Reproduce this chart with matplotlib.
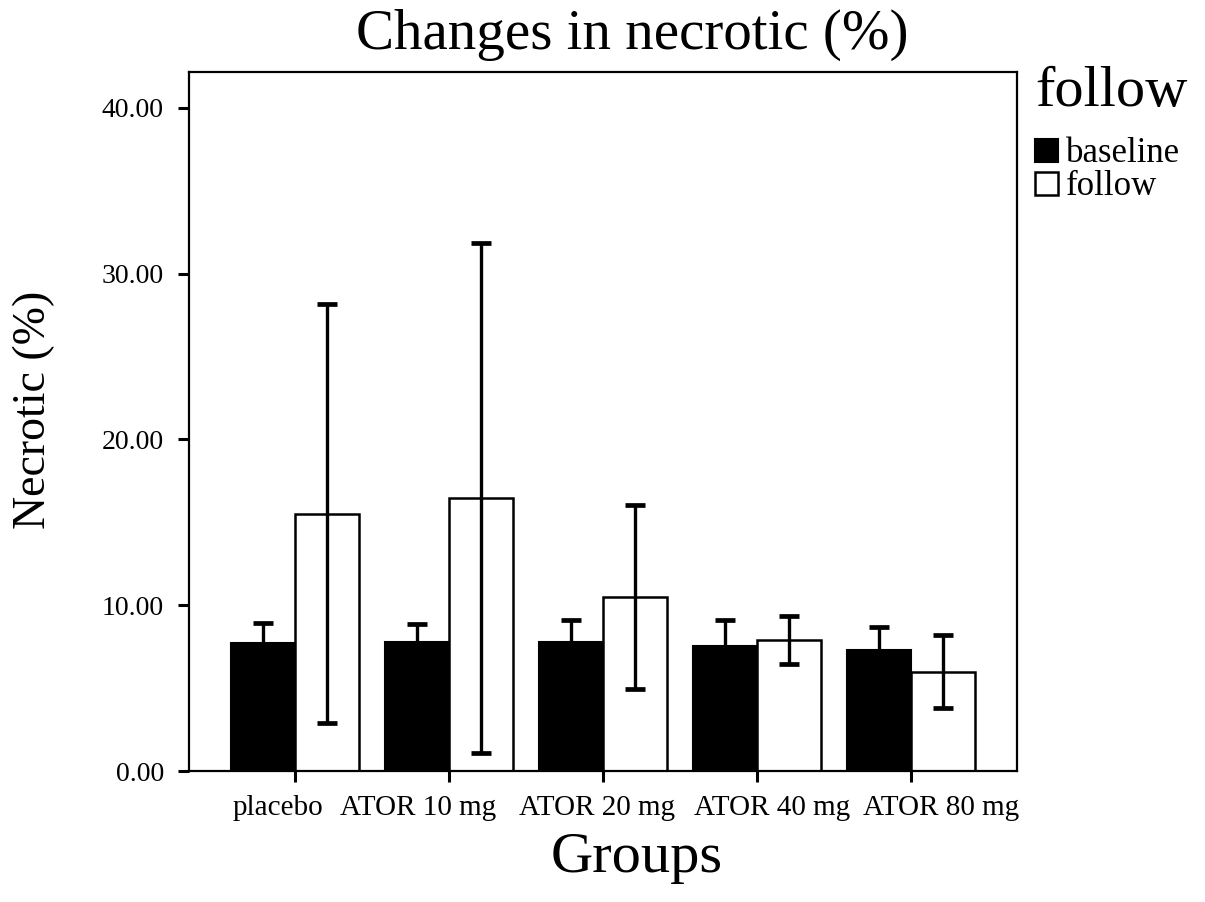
import matplotlib
matplotlib.use('Agg')
import matplotlib.pyplot as plt
import matplotlib.transforms as mtransforms
import numpy as np
from matplotlib.patches import Patch

plt.rcParams['font.family'] = ['Liberation Serif', 'DejaVu Serif']

groups = ['placebo', 'ATOR 10 mg', 'ATOR 20 mg', 'ATOR 40 mg', 'ATOR 80 mg']
baseline_mean = [7.71, 7.80, 7.80, 7.57, 7.29]
baseline_err = [1.23, 1.09, 1.34, 1.54, 1.42]
follow_mean = [15.51, 16.46, 10.51, 7.91, 6.00]
follow_err = [12.64, 15.38, 5.55, 1.47, 2.20]
y_ticks = [0, 10, 20, 30, 40]
# labels in the original sit a bit off their ticks (pixels)
label_shift = [-17, -31, -6, 15, 30]

fig = plt.figure(figsize=(12.05, 9.02), dpi=100)
ax = fig.add_axes([0.1568, 0.1452, 0.6868, 0.775])

x = np.arange(len(groups))
w = 0.415
err_kw = dict(ecolor='black', elinewidth=2.4, capsize=7, capthick=3.4)
ax.bar(x - w / 2, baseline_mean, w, color='black', edgecolor='black', linewidth=1.5,
       yerr=baseline_err, error_kw=err_kw, zorder=2, label='baseline')
ax.bar(x + w / 2, follow_mean, w, color='white', edgecolor='black', linewidth=1.8,
       yerr=follow_err, error_kw=err_kw, zorder=2, label='follow')

ax.set_xlim(-0.688, 4.685)
ax.set_ylim(0, 42.17)
ax.set_xticks(x)
ax.set_xticklabels([])
for xi, name, dx in zip(x, groups, label_shift):
    tr = ax.get_xaxis_transform() + mtransforms.ScaledTranslation(dx / 100, -24 / 100, fig.dpi_scale_trans)
    ax.text(xi, 0, name, transform=tr, fontsize=21, ha='center', va='top')
ax.set_yticks(y_ticks)
ax.set_yticklabels([f'{v:.2f}' for v in y_ticks], fontsize=20)
ax.tick_params(axis='both', direction='out', length=8, width=2.2, color='black')
ax.tick_params(axis='y', pad=10)
for s in ax.spines.values():
    s.set_linewidth(1.6)

fig.text(0.5245, 0.961, 'Changes in necrotic (%)', fontsize=41, ha='center', va='center')
fig.text(0.028, 0.5455, 'Necrotic (%)', fontsize=33, rotation=90, ha='center', va='center')
fig.text(0.5286, 0.0488, 'Groups', fontsize=42, ha='center', va='center')

handles = [Patch(facecolor='black', edgecolor='black', linewidth=1.5),
           Patch(facecolor='white', edgecolor='black', linewidth=1.8)]
leg = fig.legend(handles, ['baseline', 'follow'], title='follow', loc='upper left',
                 bbox_to_anchor=(1035 / 1205, 1 - 66 / 902), frameon=False, fontsize=25,
                 title_fontsize=42, alignment='left', handlelength=0.65, handleheight=0.65,
                 handletextpad=0.25, labelspacing=0.0, borderpad=0, borderaxespad=0)
leg._legend_box.sep = 14

fig.savefig('out.png', dpi=100)
